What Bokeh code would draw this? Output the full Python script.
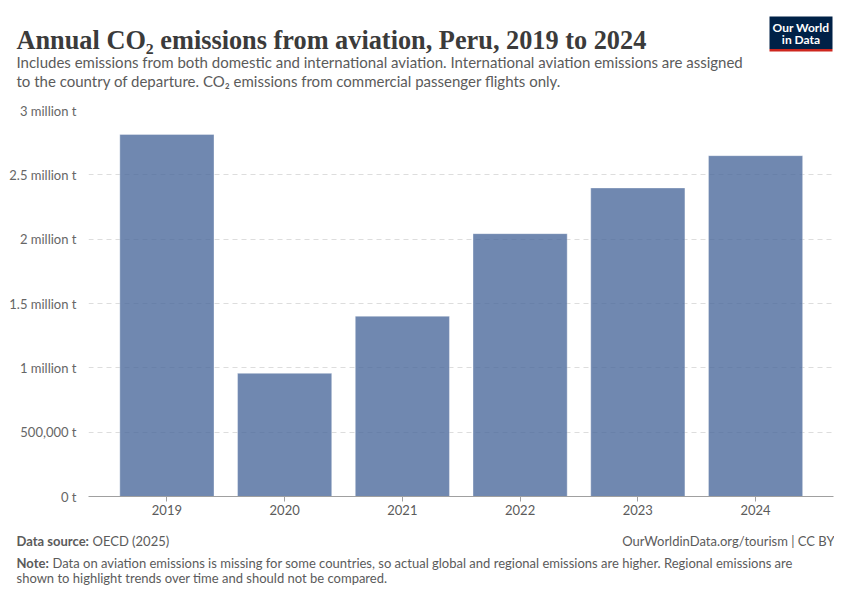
from bokeh.plotting import figure
from bokeh.models import Range1d, FixedTicker, Label, BoxAnnotation
from bokeh.layouts import column
from bokeh.embed import file_html
from bokeh.resources import INLINE

years = [2019, 2020, 2021, 2022, 2023, 2024]
emissions = [2814000, 957000, 1401000, 2043000, 2398000, 2649000]
ytick_values = [0, 500000, 1000000, 1500000, 2000000, 2500000, 3000000]
ytick_labels = ["0 t", "500,000 t", "1 million t", "1.5 million t", "2 million t", "2.5 million t", "3 million t"]
xtick_labels = [str(y) for y in years]

title = "Annual CO\u2082 emissions from aviation, Peru, 2019 to 2024"
subtitle1 = "Includes emissions from both domestic and international aviation. International aviation emissions are assigned"
subtitle2 = "to the country of departure. CO\u2082 emissions from commercial passenger flights only."
source_bold = "Data source:"
source_text = "OECD (2025)"
right_footer = "OurWorldinData.org/tourism | CC BY"
note_bold = "Note:"
note1 = "Data on aviation emissions is missing for some countries, so actual global and regional emissions are higher. Regional emissions are"
note2 = "shown to highlight trends over time and should not be compared."

W = 834
HEAD_H, MAIN_H, FOOT_H = 100, 430, 56


def blank(h, y0):
    f = figure(width=W, height=h, output_backend="svg", toolbar_location=None,
               x_range=Range1d(0, W), y_range=Range1d(y0 + h, y0),
               x_axis_location=None, y_axis_location=None, frame_align=False,
               min_border_left=0, min_border_right=0, min_border_top=0, min_border_bottom=0)
    f.outline_line_color = None
    f.xgrid.grid_line_color = None
    f.ygrid.grid_line_color = None
    return f


def lab(f, text, x, y, size, color, font="Lato", bold=False, align="left", baseline="middle"):
    f.add_layout(Label(x=x, y=y, text=text, text_font=font, text_font_size=size, text_color=color,
                       text_font_style="bold" if bold else "normal",
                       text_align=align, text_baseline=baseline))


# ---- header ----
head = blank(HEAD_H, 0)
lab(head, title, 16, 40, "26.3px", "#3b3b3b", font="Liberation Serif", bold=True, baseline="alphabetic")
lab(head, subtitle1, 16, 61, "15px", "#5b5b5b")
lab(head, subtitle2, 16, 80, "15px", "#5b5b5b")
head.add_layout(BoxAnnotation(left=769, right=832, top=16, bottom=48.5, fill_color="#002147", fill_alpha=1, line_color=None))
head.add_layout(BoxAnnotation(left=769, right=832, top=48.5, bottom=51, fill_color="#ce261e", fill_alpha=1, line_color=None))
lab(head, "Our World", 800.5, 26.5, "12px", "white", bold=True, align="center")
lab(head, "in Data", 800.5, 39, "12px", "white", bold=True, align="center")

# ---- main chart ----
p = figure(width=W, height=MAIN_H, output_backend="svg", toolbar_location=None,
           x_range=Range1d(2018.334, 2024.662), y_range=Range1d(0, 3000000), frame_align=False,
           min_border_left=88, min_border_right=1, min_border_top=10, min_border_bottom=34)
p.outline_line_color = None
p.vbar(x=years, top=emissions, width=0.8, fill_color="#4c6a9c", fill_alpha=0.8,
       line_color="#ffffff", line_alpha=0.35, line_width=1)

p.xaxis.ticker = FixedTicker(ticks=years)
p.xaxis.major_label_overrides = {y: s for y, s in zip(years, xtick_labels)}
p.xaxis.axis_line_color = "#a0a0a0"
p.xaxis.major_tick_line_color = "#a0a0a0"
p.xaxis.major_tick_in = 0
p.xaxis.major_tick_out = 5
p.xaxis.minor_tick_line_color = None
p.xaxis.major_label_text_font = "Lato"
p.xaxis.major_label_text_font_size = "13px"
p.xaxis.major_label_text_color = "#5b5b5b"
p.xaxis.major_label_standoff = 3

p.yaxis.ticker = FixedTicker(ticks=ytick_values)
p.yaxis.major_label_overrides = {v: s for v, s in zip(ytick_values, ytick_labels)}
p.yaxis.axis_line_color = None
p.yaxis.major_tick_line_color = None
p.yaxis.minor_tick_line_color = None
p.yaxis.major_label_text_font = "Lato"
p.yaxis.major_label_text_font_size = "13px"
p.yaxis.major_label_text_color = "#666666"
p.yaxis.major_label_standoff = 6

p.xgrid.grid_line_color = None
p.ygrid.grid_line_color = "#dddddd"
p.ygrid.grid_line_dash = "5 4"

# ---- footer ----
foot = blank(FOOT_H, HEAD_H + MAIN_H)
lab(foot, source_bold, 16, 540, "13px", "#5b5b5b", bold=True)
lab(foot, source_text, 92, 540, "13px", "#5b5b5b")
lab(foot, right_footer, 834, 540, "13px", "#5b5b5b", align="right")
lab(foot, note_bold, 16, 562, "13px", "#5b5b5b", bold=True)
lab(foot, note1, 52, 562, "13px", "#5b5b5b")
lab(foot, note2, 16, 577, "13px", "#5b5b5b")

layout = column(head, p, foot, spacing=0)
open("out.html", "w").write(file_html(layout, INLINE))
